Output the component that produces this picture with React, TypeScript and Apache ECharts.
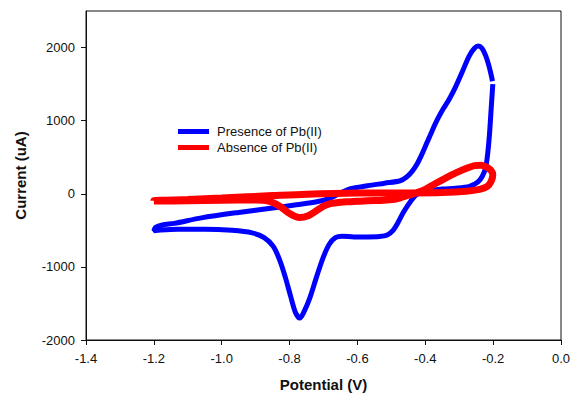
import React, { useEffect, useRef } from "react";
import * as echarts from "echarts";

// Presence of Pb(II) — closed CV loop (potential V, current uA)
const presenceV = [
  -0.201, -0.206, -0.211, -0.216, -0.222, -0.232, -0.245, -0.27, -0.31, -0.35, -0.395, -0.425,
  -0.444, -0.464, -0.48, -0.495, -0.512, -0.535, -0.57, -0.61, -0.645, -0.665, -0.683, -0.7,
  -0.72, -0.74, -0.757, -0.77, -0.783, -0.797, -0.812, -0.828, -0.848, -0.875, -0.91, -0.97,
  -1.05, -1.13, -1.18, -1.2, -1.195, -1.175, -1.14, -1.06, -0.95, -0.85, -0.78, -0.72, -0.68,
  -0.65, -0.62, -0.57, -0.52, -0.474, -0.455, -0.44, -0.425, -0.41, -0.395, -0.38, -0.365,
  -0.35, -0.33, -0.31, -0.29, -0.27, -0.255, -0.244, -0.233, -0.222, -0.213, -0.205, -0.202,
];
const presenceI = [
  1500, 1150, 800, 550, 360, 240, 160, 100, 75, 65, 40, -10,
  -109, -250, -390, -500, -565, -585, -590, -590, -580, -600, -690, -860,
  -1130, -1420, -1610, -1700, -1620, -1400, -1150, -920, -720, -600, -535, -500,
  -485, -485, -495, -505, -460, -425, -405, -330, -255, -195, -150, -110, -60,
  10, 70, 110, 145, 178, 230, 300, 400, 540, 700, 860, 1010,
  1140, 1290, 1470, 1680, 1890, 1990, 2020, 1990, 1890, 1760, 1610, 1540,
];

// Absence of Pb(II) — closed CV loop
const absenceV = [
  -1.2, -1.1, -1.0, -0.9, -0.875, -0.85, -0.827, -0.8, -0.771, -0.745, -0.72, -0.7, -0.68,
  -0.65, -0.62, -0.57, -0.523, -0.49, -0.474, -0.45, -0.424, -0.4, -0.37, -0.34, -0.31,
  -0.28, -0.255, -0.235, -0.217, -0.205, -0.201, -0.206, -0.217, -0.24, -0.28, -0.35,
  -0.45, -0.6, -0.75, -0.85, -1.0, -1.1, -1.2, -1.2,
];
const absenceI = [
  -100, -95, -88, -85, -90, -120, -178, -270, -325, -300, -230, -170, -135,
  -115, -108, -95, -89, -75, -55, -20, 15, 60, 140, 215, 285,
  345, 385, 390, 360, 310, 260, 170, 100, 60, 35, 18,
  12, 10, -5, -25, -58, -78, -95, -100,
];

const xTicks = [-1.4, -1.2, -1.0, -0.8, -0.6, -0.4, -0.2, 0.0];
const yTicks = [-2000, -1000, 0, 1000, 2000];

const seriesNames = ["Presence of Pb(II)", "Absence of Pb(II)"];

function pairs(xs: number[], ys: number[]) {
  return xs.map((x, i) => [x, ys[i]]);
}

export default function App() {
  const ref = useRef<HTMLDivElement>(null);
  useEffect(() => {
    if (!ref.current) return;
    const chart = echarts.init(ref.current, undefined, { renderer: "svg" });
    const font = "'Liberation Sans', Arial, sans-serif";
    chart.setOption({
      animation: false,
      backgroundColor: "#ffffff",
      grid: {
        left: 86,
        right: 10,
        top: 11,
        bottom: 54,
        show: true,
        borderColor: "#111",
        borderWidth: 1,
        containLabel: false,
        outerBoundsMode: "none",
      },
      legend: {
        orient: "vertical",
        left: 178,
        top: 124,
        padding: 0,
        icon: "rect",
        itemWidth: 31,
        itemHeight: 5,
        itemGap: 1,
        data: seriesNames,
        textStyle: {
          fontFamily: font,
          fontSize: 13,
          color: "#111",
          lineHeight: 15,
          padding: [0, 0, 0, 3],
        },
      },
      xAxis: {
        type: "value",
        min: -1.4,
        max: 0,
        interval: 0.2,
        name: "Potential (V)",
        nameLocation: "middle",
        nameGap: 37,
        nameTextStyle: { fontFamily: font, fontSize: 15, fontWeight: "bold", color: "#111" },
        axisLine: { show: true, onZero: false, lineStyle: { color: "#111", width: 1 } },
        axisTick: { show: true, inside: false, length: 5, lineStyle: { color: "#111" }, customValues: xTicks },
        axisLabel: {
          fontFamily: font,
          fontSize: 13,
          color: "#111",
          margin: 12,
          customValues: xTicks,
          formatter: (v: number) => (Math.abs(v) < 1e-9 ? "0.0" : v.toFixed(1)),
        },
        splitLine: { show: false },
      },
      yAxis: {
        type: "value",
        min: -2000,
        max: 2500,
        interval: 1000,
        name: "Current (uA)",
        nameLocation: "middle",
        nameGap: 58,
        nameRotate: 90,
        nameTextStyle: { fontFamily: font, fontSize: 15, fontWeight: "bold", color: "#111" },
        axisLine: { show: true, onZero: false, lineStyle: { color: "#111", width: 1 } },
        axisTick: { show: true, inside: false, length: 5, lineStyle: { color: "#111" }, customValues: yTicks },
        axisLabel: {
          fontFamily: font,
          fontSize: 13,
          color: "#111",
          margin: 11,
          customValues: yTicks,
          formatter: (v: number) => String(Math.round(v)),
        },
        splitLine: { show: false },
      },
      series: [
        {
          name: seriesNames[0],
          type: "line",
          data: pairs(presenceV, presenceI),
          showSymbol: false,
          symbol: "none",
          smooth: 0.3,
          color: "#0000ff",
          itemStyle: { color: "#0000ff" },
          lineStyle: { color: "#0000ff", width: 5 },
          z: 2,
        },
        {
          name: seriesNames[1],
          type: "line",
          data: pairs(absenceV, absenceI),
          showSymbol: false,
          symbol: "none",
          smooth: 0.3,
          color: "#ff0000",
          itemStyle: { color: "#ff0000" },
          lineStyle: { color: "#ff0000", width: 7 },
          z: 3,
        },
      ],
    });
    return () => chart.dispose();
  }, []);
  return <div ref={ref} style={{ width: 571, height: 394, position: "absolute", left: 0, top: 0 }} />;
}
